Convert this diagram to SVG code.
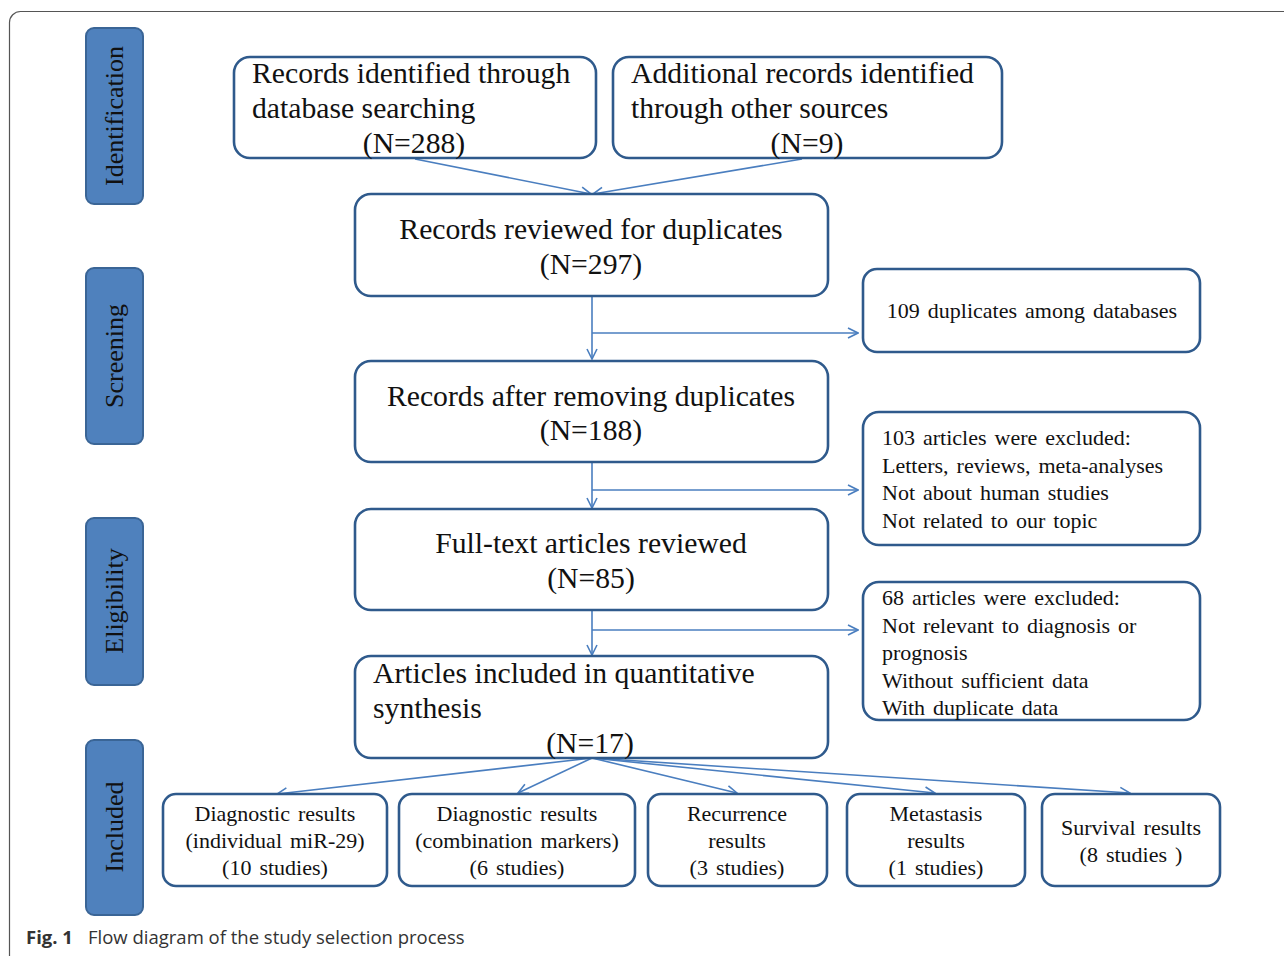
<svg xmlns="http://www.w3.org/2000/svg" width="1284" height="956" viewBox="0 0 1284 956">
<defs>
<style>
.frame{fill:none;stroke:#555;stroke-width:1.2}
.phase{fill:#4f81bd;stroke:#3a6596;stroke-width:2}
.ptxt{font-family:"Liberation Serif",serif;font-size:26px;fill:#111;text-anchor:middle}
.box{fill:#fff;stroke:#2f5a8c;stroke-width:2.6}
.big{font-family:"Liberation Serif",serif;font-size:29.7px;fill:#111}
.sm{font-family:"Liberation Serif",serif;font-size:22px;fill:#111;word-spacing:2.5px}
.mid{text-anchor:middle}
.conn{fill:none;stroke:#4a7ebf;stroke-width:1.6}
.cap{font-family:"Open Sans","Noto Sans",sans-serif;font-size:18.5px;fill:#333}
</style>
<marker id="arr" viewBox="0 0 12 12" refX="11" refY="6" markerWidth="12" markerHeight="12" markerUnits="userSpaceOnUse" orient="auto">
<path d="M1,1 L11,6 L1,11" fill="none" stroke="#4a7ebf" stroke-width="1.6"/>
</marker>
</defs>
<rect width="1284" height="956" fill="#fff"/>
<rect class="frame" x="9.5" y="11.5" width="1300" height="960" rx="11"/>

<g id="phase-identification"><rect class="phase" x="86" y="28" width="57" height="176" rx="8"/><text class="ptxt" transform="translate(123,116) rotate(-90)">Identification</text></g>
<g id="phase-screening"><rect class="phase" x="86" y="268" width="57" height="176" rx="8"/><text class="ptxt" transform="translate(123,356) rotate(-90)">Screening</text></g>
<g id="phase-eligibility"><rect class="phase" x="86" y="518" width="57" height="167" rx="8"/><text class="ptxt" transform="translate(123,601) rotate(-90)">Eligibility</text></g>
<g id="phase-included"><rect class="phase" x="86" y="740" width="57" height="175" rx="8"/><text class="ptxt" transform="translate(123,827) rotate(-90)">Included</text></g>

<g id="connectors">
<line class="conn" x1="415" y1="159" x2="591" y2="194" marker-end="url(#arr)"/>
<line class="conn" x1="802" y1="159" x2="593" y2="194" marker-end="url(#arr)"/>
<line class="conn" x1="592" y1="297" x2="592" y2="359" marker-end="url(#arr)"/>
<line class="conn" x1="592" y1="333" x2="858" y2="333" marker-end="url(#arr)"/>
<line class="conn" x1="592" y1="463" x2="592" y2="508" marker-end="url(#arr)"/>
<line class="conn" x1="592" y1="490" x2="858" y2="490" marker-end="url(#arr)"/>
<line class="conn" x1="592" y1="611" x2="592" y2="655" marker-end="url(#arr)"/>
<line class="conn" x1="592" y1="630" x2="858" y2="630" marker-end="url(#arr)"/>
<line class="conn" x1="592" y1="758" x2="277" y2="794" marker-end="url(#arr)"/>
<line class="conn" x1="592" y1="758" x2="518" y2="793" marker-end="url(#arr)"/>
<line class="conn" x1="592" y1="758" x2="737" y2="793" marker-end="url(#arr)"/>
<line class="conn" x1="592" y1="758" x2="935" y2="793" marker-end="url(#arr)"/>
<line class="conn" x1="592" y1="758" x2="1130" y2="793" marker-end="url(#arr)"/>
</g>

<g id="n-db"><rect class="box" x="234" y="57" width="362" height="101" rx="16"/>
<text class="big" x="252" y="83">Records identified through</text>
<text class="big" x="252" y="118">database searching</text>
<text class="big mid" x="414" y="153">(N=288)</text></g>

<g id="n-other"><rect class="box" x="613" y="57" width="389" height="101" rx="16"/>
<text class="big" x="631" y="83">Additional records identified</text>
<text class="big" x="631" y="118">through other sources</text>
<text class="big mid" x="807" y="153">(N=9)</text></g>

<g id="n-reviewed"><rect class="box" x="355" y="194" width="473" height="102" rx="16"/>
<text class="big mid" x="591" y="239">Records reviewed for duplicates</text>
<text class="big mid" x="591" y="274">(N=297)</text></g>

<g id="n-dup"><rect class="box" x="863" y="269" width="337" height="83" rx="14"/>
<text class="sm mid" x="1032" y="318">109 duplicates among databases</text></g>

<g id="n-after"><rect class="box" x="355" y="361" width="473" height="101" rx="16"/>
<text class="big mid" x="591" y="406">Records after removing duplicates</text>
<text class="big mid" x="591" y="440">(N=188)</text></g>

<g id="n-excl103"><rect class="box" x="863" y="412" width="337" height="133" rx="16"/>
<text class="sm" x="882" y="445">103 articles were excluded:</text>
<text class="sm" x="882" y="473">Letters, reviews, meta-analyses</text>
<text class="sm" x="882" y="500">Not about human studies</text>
<text class="sm" x="882" y="528">Not related to our topic</text></g>

<g id="n-fulltext"><rect class="box" x="355" y="509" width="473" height="101" rx="16"/>
<text class="big mid" x="591" y="553">Full-text articles reviewed</text>
<text class="big mid" x="591" y="588">(N=85)</text></g>

<g id="n-excl68"><rect class="box" x="863" y="582" width="337" height="138" rx="16"/>
<text class="sm" x="882" y="605">68 articles were excluded:</text>
<text class="sm" x="882" y="633">Not relevant to diagnosis or</text>
<text class="sm" x="882" y="660">prognosis</text>
<text class="sm" x="882" y="688">Without sufficient data</text>
<text class="sm" x="882" y="715">With duplicate data</text></g>

<g id="n-included"><rect class="box" x="355" y="656" width="473" height="102" rx="16"/>
<text class="big" x="373" y="683">Articles included in quantitative</text>
<text class="big" x="373" y="718">synthesis</text>
<text class="big mid" x="590" y="753">(N=17)</text></g>

<g id="n-diag1"><rect class="box" x="163" y="794" width="224" height="92" rx="13"/>
<text class="sm mid" x="275" y="821">Diagnostic results</text>
<text class="sm mid" x="275" y="848">(individual miR-29)</text>
<text class="sm mid" x="275" y="875">(10 studies)</text></g>

<g id="n-diag2"><rect class="box" x="399" y="794" width="236" height="92" rx="13"/>
<text class="sm mid" x="517" y="821">Diagnostic results</text>
<text class="sm mid" x="517" y="848">(combination markers)</text>
<text class="sm mid" x="517" y="875">(6 studies)</text></g>

<g id="n-recur"><rect class="box" x="648" y="794" width="179" height="92" rx="13"/>
<text class="sm mid" x="737" y="821">Recurrence</text>
<text class="sm mid" x="737" y="848">results</text>
<text class="sm mid" x="737" y="875">(3 studies)</text></g>

<g id="n-meta"><rect class="box" x="847" y="794" width="178" height="92" rx="13"/>
<text class="sm mid" x="936" y="821">Metastasis</text>
<text class="sm mid" x="936" y="848">results</text>
<text class="sm mid" x="936" y="875">(1 studies)</text></g>

<g id="n-surv"><rect class="box" x="1042" y="794" width="178" height="92" rx="13"/>
<text class="sm mid" x="1131" y="835">Survival results</text>
<text class="sm mid" x="1131" y="862">(8 studies )</text></g>

<text class="cap" x="26" y="944"><tspan font-weight="bold">Fig. 1</tspan><tspan x="88">Flow diagram of the study selection process</tspan></text>
</svg>
